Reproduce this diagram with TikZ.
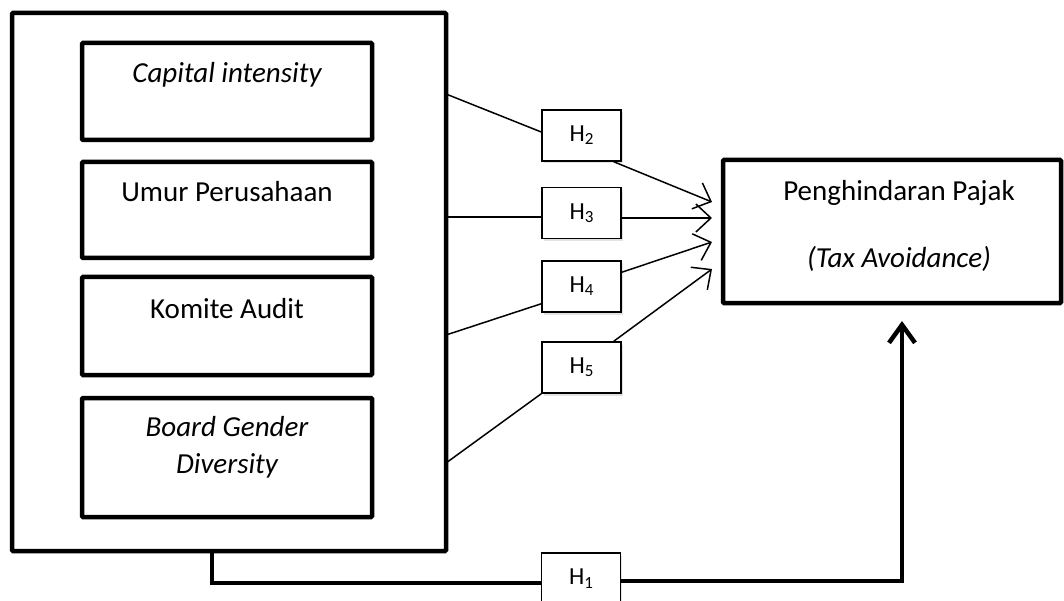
\documentclass[tikz,border=0pt]{standalone}
\usepackage{fontspec}
\setmainfont{Carlito}
\usetikzlibrary{arrows.meta,calc,shadows}
\newcommand{\hsub}[1]{\raisebox{-0.28ex}{\fontsize{17}{20}\selectfont #1}}
\begin{document}
\begin{tikzpicture}[x=1pt,y=-1pt,
  thickbox/.style={draw,line width=4.5pt,rounded corners=1pt,inner sep=0pt},
  hbox/.style={draw,line width=1.5pt,fill=white,minimum width=79pt,minimum height=51pt,inner sep=0pt,
    font=\fontsize{24.5}{28}\selectfont,
    drop shadow={opacity=0.22,shadow xshift=1.5pt,shadow yshift=-2.5pt}},
  txt/.style={anchor=base,font=\fontsize{29}{35}\selectfont,inner sep=0pt},
  conn/.style={line width=1.5pt},
  arr/.style={conn,-{Straight Barb[length=15pt,width=28pt]}},
  bigline/.style={line width=4.5pt},
  bigarr/.style={bigline,-{Straight Barb[length=18pt,width=26pt]}}]
\useasboundingbox (0,0) rectangle (1064,601);

% outer box and inner variable boxes
\node[thickbox,minimum width=434pt,minimum height=538pt] (outer) at (229,282) {};
\node[thickbox,minimum width=290pt,minimum height=97pt] (ci) at (227,91.5) {};
\node[thickbox,minimum width=290pt,minimum height=96pt] (up) at (227,210) {};
\node[thickbox,minimum width=290pt,minimum height=98pt] (ka) at (227,326) {};
\node[thickbox,minimum width=290pt,minimum height=119pt] (bgd) at (227,457.5) {};

\node[txt] (tci) at (227,83) {\itshape Capital intensity};
\node[txt] (tup) at (227,202) {Umur Perusahaan};
\node[txt] (tka) at (227,318) {Komite Audit};
\node[txt] (tbg1) at (227,436) {\itshape Board Gender};
\node[txt] (tbg2) at (227,473) {\itshape Diversity};

% target box
\node[thickbox,minimum width=338pt,minimum height=143pt] (ta) at (892,231.5) {};
\node[txt] (tta1) at (899,201) {Penghindaran Pajak};
\node[txt] (tta2) at (899,268) {\itshape (Tax Avoidance)};

% hypothesis boxes
\node[hbox] (H2) at (581.5,135.5) {H\hsub{2}};
\node[hbox] (H3) at (581.5,213) {H\hsub{3}};
\node[hbox] (H4) at (581.5,286.5) {H\hsub{4}};
\node[hbox] (H5) at (581.5,367.5) {H\hsub{5}};
\node[hbox] (H1) at (581,578.5) {H\hsub{1}};

% connectors
\coordinate (s2) at (446,94);
\coordinate (t2) at (712,202);
\draw[conn] (s2) -- ($(H2.west)+(0,-3.5)$);
\draw[arr] ($(H2.south east)+(-8,0)$) -- (t2);

\coordinate (s3) at (446,217);
\coordinate (t3) at (712,218);
\draw[conn] (s3) -- (s3 -| H3.west);
\draw[arr] (t3 -| H3.east) -- (t3);

\coordinate (s4) at (446,335);
\coordinate (t4) at (712,242);
\draw[conn] (s4) -- ($(H4.south west)+(0,-9)$);
\draw[arr] ($(H4.north east)+(0,12)$) -- (t4);

\coordinate (s5) at (446,463);
\coordinate (t5) at (712,269);
\draw[conn] (s5) -- (H5.south west);
\draw[arr] ($(H5.north east)+(-8,0)$) -- (t5);

% H1 path
\coordinate (b0) at (212,551);
\coordinate (b1) at (212,583);
\coordinate (b2) at (902,581);
\coordinate (b3) at (902,321);
\draw[bigline] (b0) -- (b1) -- (b1 -| H1.west);
\draw[bigarr] (H1.east |- b2) -- (b2) -- (b3);
\end{tikzpicture}
\end{document}
